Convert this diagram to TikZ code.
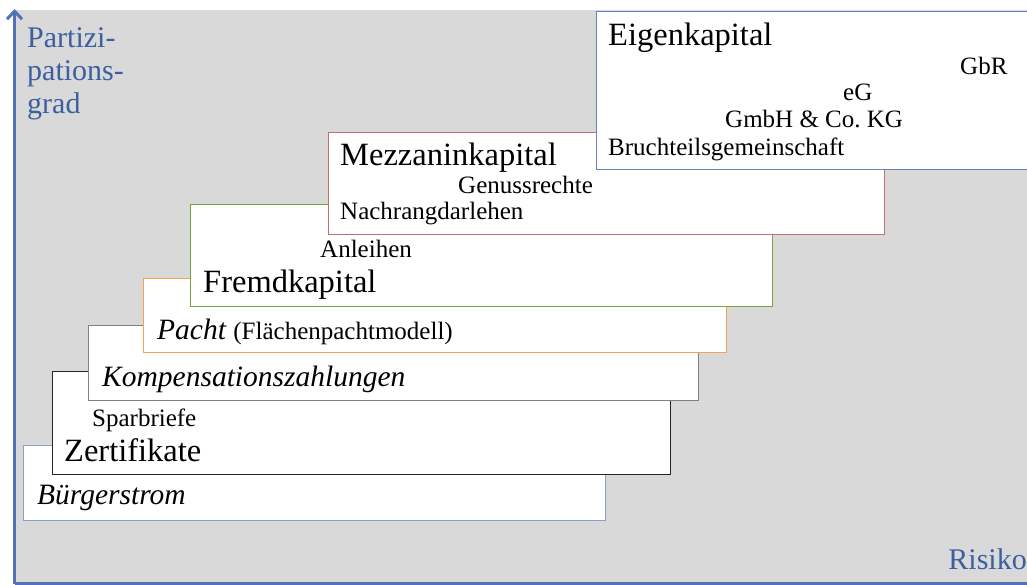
\documentclass[tikz,border=0pt]{standalone}
\usepackage{fontspec}
\setmainfont{Liberation Serif}
\usepackage{xcolor}
\usetikzlibrary{arrows.meta}

\definecolor{hintergrund}{RGB}{217,217,217}
\definecolor{achsblau}{RGB}{84,112,184}
\definecolor{textblau}{RGB}{60,95,160}
\definecolor{rahmenbuerger}{RGB}{140,157,212}
\definecolor{rahmenkomp}{RGB}{128,128,128}
\definecolor{rahmenpacht}{RGB}{243,163,88}
\definecolor{rahmenfremd}{RGB}{122,163,60}
\definecolor{rahmenmezz}{RGB}{192,112,110}
\definecolor{rahmeneigen}{RGB}{106,127,201}

\newcommand\grossschrift{\fontsize{32.5}{38}\selectfont}
\newcommand\mittelschrift{\fontsize{29.5}{35}\selectfont}
\newcommand\kleinschrift{\fontsize{25}{30}\selectfont}

\begin{document}
\begin{tikzpicture}[
    x=1pt, y=-1pt,
    stufe/.style={draw=#1, fill=white, line width=1.3pt, inner sep=0pt,
                  anchor=north west},
    gross/.style={anchor=base west, inner sep=0pt, font=\grossschrift},
    mittel/.style={anchor=base west, inner sep=0pt, font=\mittelschrift\itshape},
    klein/.style={anchor=base west, inner sep=0pt, font=\kleinschrift},
    achse/.style={line width=3pt, achsblau}
]
    \useasboundingbox (0,0) rectangle (1027,585);
    \clip (0,0) rectangle (1027,585);
    \fill[hintergrund] (14,10) rectangle (1027,583);

    % Stufen von unten nach oben
    \node[stufe=rahmenbuerger, minimum width=582pt, minimum height=75pt] (buerger) at (23,445) {};
    \node[mittel] (buergertext) at (37,504) {Bürgerstrom};

    \node[stufe=black!85, minimum width=618pt, minimum height=103pt] (zert) at (52,371) {};
    \node[klein] (sparbriefe) at (92,426) {Sparbriefe};
    \node[gross] (zerttext) at (64,461) {Zertifikate};

    \node[stufe=rahmenkomp, minimum width=610pt, minimum height=75pt] (komp) at (88,325) {};
    \node[mittel] (komptext) at (102,386) {Kompensationszahlungen};

    \node[stufe=rahmenpacht, minimum width=583pt, minimum height=74pt] (pacht) at (143,278) {};
    \node[mittel] (pachttext) at (157,339) {Pacht {\kleinschrift\upshape(Flächenpachtmodell)}};

    \node[stufe=rahmenfremd, minimum width=582pt, minimum height=102pt] (fremd) at (190,204) {};
    \node[klein] (anleihen) at (320,258) {Anleihen};
    \node[gross] (fremdtext) at (203,292) {Fremdkapital};

    \node[stufe=rahmenmezz, minimum width=556pt, minimum height=102pt] (mezz) at (328,132) {};
    \node[gross] (mezztext) at (340,166) {Mezzaninkapital};
    \node[klein] (genuss) at (458,194) {Genussrechte};
    \node[klein] (nachrang) at (340,220) {Nachrangdarlehen};

    \node[stufe=rahmeneigen, minimum width=440pt, minimum height=158pt] (eigen) at (596,11) {};
    \node[gross] (eigentext) at (608,46) {Eigenkapital};
    \node[klein] (gbr) at (960,75) {GbR};
    \node[klein] (eg) at (843,101) {eG};
    \node[klein] (gmbh) at (725,128) {GmbH \& Co.~KG};
    \node[klein] (bruchteil) at (608,156) {Bruchteilsgemeinschaft};

    % Achsen
    \coordinate (ursprung) at (14.5,583.5);
    \coordinate (yende) at (14.5,9);
    \coordinate (xende) at (1030,583.5);
    \draw[achse, -{Straight Barb[length=8pt, width=15pt]}] (ursprung) -- (yende);
    \draw[achse] (ursprung) -- (xende);

    \node[anchor=north west, inner sep=0pt, align=left, text=textblau,
          font=\fontsize{30}{33}\selectfont] (partizipation) at (27,27)
          {Partizi-\\pations-\\grad};
    \node[anchor=base east, inner sep=0pt, text=textblau,
          font=\fontsize{30}{33}\selectfont] (risiko) at (1027,569) {Risiko};
\end{tikzpicture}
\end{document}
